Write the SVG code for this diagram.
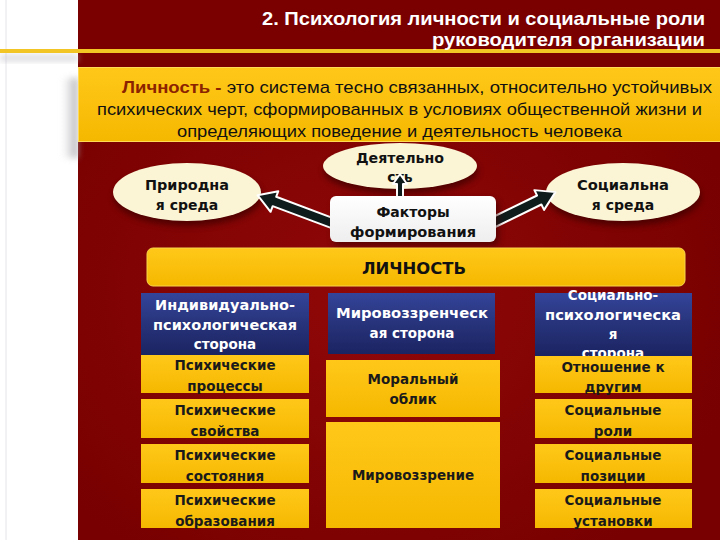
<svg xmlns="http://www.w3.org/2000/svg" width="720" height="540" viewBox="0 0 720 540">
<defs>
<style>
.title{font-family:"Liberation Sans Narrow","Liberation Sans",sans-serif;font-size:19px;font-weight:bold;fill:#fff}
.def{font-family:"Liberation Sans Narrow","Liberation Sans",sans-serif;font-size:17px;fill:#111}
.ell{fill:#fbf5d5}
.et{font-family:"DejaVu Sans",sans-serif;font-size:14px;font-weight:bold;fill:#111;text-anchor:middle}
.ht{font-family:"DejaVu Sans",sans-serif;font-size:13.5px;font-weight:bold;fill:#fff;text-anchor:middle}
.ct{font-family:"DejaVu Sans",sans-serif;font-size:13.5px;font-weight:bold;fill:#1a1a1a;text-anchor:middle}
.cell{fill:url(#yel)}
.hdr{fill:url(#navy)}
.arrow{fill:#0f1c1c;stroke:#fff;stroke-width:2;stroke-linejoin:round}
</style>
<radialGradient id="bg" cx="0.45" cy="0.55" r="0.6">
<stop offset="0" stop-color="#900808"/>
<stop offset="1" stop-color="#780000"/>
</radialGradient>
<linearGradient id="yel" x1="0" y1="0" x2="0" y2="1">
<stop offset="0" stop-color="#ffc819"/>
<stop offset="1" stop-color="#f5b800"/>
</linearGradient>
<linearGradient id="navy" x1="0" y1="0" x2="0" y2="1">
<stop offset="0" stop-color="#34449a"/>
<stop offset="0.5" stop-color="#27337a"/>
<stop offset="1" stop-color="#1b2462"/>
</linearGradient>
<linearGradient id="fakt" x1="0" y1="0" x2="0" y2="1">
<stop offset="0" stop-color="#ffffff"/>
<stop offset="1" stop-color="#eeeeee"/>
</linearGradient>
<linearGradient id="shg" x1="0" y1="0" x2="1" y2="0">
<stop offset="0" stop-color="#c8c8cc" stop-opacity="0"/>
<stop offset="1" stop-color="#9a9aa0"/>
</linearGradient>
<clipPath id="clipR"><rect x="535" y="280" width="157" height="76"/></clipPath>
<filter id="blur" x="-0.5" y="-0.5" width="2" height="2"><feGaussianBlur stdDeviation="3"/></filter>
<filter id="sh" x="-0.2" y="-0.2" width="1.4" height="1.5"><feGaussianBlur stdDeviation="3"/></filter>
</defs>

<!-- background -->
<rect x="0" y="0" width="720" height="540" fill="#fff"/>
<rect x="78" y="0" width="642" height="540" fill="url(#bg)"/>
<rect x="78" y="0" width="642" height="67" fill="#7a0000"/>
<line x1="6" y1="0" x2="6" y2="540" stroke="#e4e4ea" stroke-width="1"/>
<rect x="0" y="55" width="78" height="6" fill="#c0c0c8" filter="url(#blur)" opacity="0.6"/>
<rect x="62" y="78" width="16" height="80" fill="url(#shg)" filter="url(#blur)" opacity="0.8"/>
<rect x="0" y="49" width="720" height="4" fill="#f2c524"/>

<!-- title -->
<g id="title">
<text class="title" x="705" y="25" text-anchor="end" textLength="443" lengthAdjust="spacingAndGlyphs">2. Психология личности и социальные роли</text>
<text class="title" x="705" y="46" text-anchor="end" textLength="273" lengthAdjust="spacingAndGlyphs">руководителя организации</text>
</g>

<!-- definition -->
<g id="definition">
<rect x="78" y="67" width="642" height="75" fill="url(#yel)"/>
<rect x="78.5" y="67.5" width="642" height="74" fill="none" stroke="#ffdb55" stroke-width="1"/>
<text class="def" x="122" y="93" textLength="590" lengthAdjust="spacingAndGlyphs"><tspan fill="#8b2200" font-weight="bold">Личность</tspan><tspan fill="#8b2200" font-weight="bold"> - </tspan>это система тесно связанных,  относительно устойчивых</text>
<text class="def" x="97" y="115" textLength="605" lengthAdjust="spacingAndGlyphs">психических черт, сформированных в условиях общественной  жизни  и</text>
<text class="def" x="177" y="137" textLength="445" lengthAdjust="spacingAndGlyphs">определяющих  поведение и деятельность человека</text>
</g>

<!-- ellipses -->
<g id="prirodnaya">
<ellipse cx="188" cy="197" rx="74" ry="29" fill="#3a0000" filter="url(#sh)" opacity="0.7"/>
<ellipse class="ell" cx="187" cy="192" rx="74" ry="29"/>
<text class="et" x="187" y="190" textLength="84" lengthAdjust="spacingAndGlyphs">Природна</text>
<text class="et" x="187" y="210">я среда</text>
</g>
<g id="deyatelnost">
<ellipse cx="401" cy="171" rx="77" ry="23" fill="#3a0000" filter="url(#sh)" opacity="0.7"/>
<ellipse class="ell" cx="400" cy="166" rx="77" ry="23"/>
<text class="et" x="400" y="163" textLength="88" lengthAdjust="spacingAndGlyphs">Деятельно</text>
<text class="et" x="400" y="182">сть</text>
</g>
<g id="socialnaya">
<ellipse cx="624" cy="197" rx="77" ry="29" fill="#3a0000" filter="url(#sh)" opacity="0.7"/>
<ellipse class="ell" cx="623" cy="192" rx="77" ry="29"/>
<text class="et" x="623" y="190" textLength="92" lengthAdjust="spacingAndGlyphs">Социальна</text>
<text class="et" x="623" y="210">я среда</text>
</g>

<!-- connectors -->
<g id="connectors">
<path class="arrow" transform="translate(340,226) rotate(200.5)" d="M0,-5 L70,-5 L70,-11 L88,0 L70,11 L70,5 L0,5 Z"/>
<path class="arrow" transform="translate(488,225) rotate(-26)" d="M0,-5 L57,-5 L57,-11 L75,0 L57,11 L57,5 L0,5 Z"/>
<path class="arrow" transform="translate(400,204) rotate(-90)" d="M0,-3 L20,-3 L20,-7 L30,0 L20,7 L20,3 L0,3 Z"/>
</g>

<!-- factors -->
<g id="faktory">
<rect x="333" y="200" width="166" height="46" rx="6" fill="#3a0000" filter="url(#sh)" opacity="0.6"/>
<rect x="330" y="196" width="166" height="46" rx="6" fill="url(#fakt)"/>
<text class="et" x="413" y="217">Факторы</text>
<text class="et" x="413" y="237" textLength="126" lengthAdjust="spacingAndGlyphs">формирования</text>
</g>

<!-- personality bar -->
<g id="lichnost">
<rect x="147" y="248" width="538" height="38" rx="6" fill="url(#yel)" stroke="#f7d54a" stroke-width="1"/>
<text x="414" y="274" font-family="DejaVu Sans, sans-serif" font-size="16" font-weight="bold" text-anchor="middle" fill="#111" textLength="104" lengthAdjust="spacingAndGlyphs">ЛИЧНОСТЬ</text>
</g>

<!-- left column -->
<g id="col-individ">
<rect class="hdr" x="141" y="293" width="168" height="62"/>
<text class="ht" x="225" y="310" textLength="140" lengthAdjust="spacingAndGlyphs">Индивидуально-</text>
<text class="ht" x="225" y="330" textLength="144" lengthAdjust="spacingAndGlyphs">психологическая</text>
<text class="ht" x="225" y="349">сторона</text>
</g>
<g id="cell-processes">
<rect class="cell" x="141" y="355" width="168" height="38"/>
<text class="ct" x="225" y="370">Психические</text>
<text class="ct" x="225" y="391">процессы</text>
</g>
<g id="cell-svoystva">
<rect class="cell" x="141" y="399" width="168" height="39"/>
<text class="ct" x="225" y="415">Психические</text>
<text class="ct" x="225" y="436">свойства</text>
</g>
<g id="cell-sostoyaniya">
<rect class="cell" x="141" y="444" width="168" height="39"/>
<text class="ct" x="225" y="460">Психические</text>
<text class="ct" x="225" y="481">состояния</text>
</g>
<g id="cell-obrazovaniya">
<rect class="cell" x="141" y="489" width="168" height="39"/>
<text class="ct" x="225" y="505">Психические</text>
<text class="ct" x="225" y="526">образования</text>
</g>

<!-- middle column -->
<g id="col-mirovozz">
<rect class="hdr" x="328" y="293" width="167" height="61"/>
<text class="ht" x="412" y="318" textLength="152" lengthAdjust="spacingAndGlyphs">Мировоззренческ</text>
<text class="ht" x="412" y="338">ая сторона</text>
</g>
<g id="cell-moral">
<rect class="cell" x="326" y="360" width="174" height="57"/>
<text class="ct" x="413" y="384">Моральный</text>
<text class="ct" x="413" y="404">облик</text>
</g>
<g id="cell-mirovozzrenie">
<rect class="cell" x="326" y="422" width="174" height="106"/>
<text class="ct" x="413" y="480">Мировоззрение</text>
</g>

<!-- right column -->
<g id="col-social">
<rect class="hdr" x="535" y="293" width="157" height="63"/>
<g clip-path="url(#clipR)">
<text class="ht" x="613" y="300">Социально-</text>
<text class="ht" x="613" y="320" textLength="136" lengthAdjust="spacingAndGlyphs">психологическа</text>
<text class="ht" x="613" y="339">я</text>
<text class="ht" x="613" y="358">сторона</text>
</g>
</g>
<g id="cell-otnoshenie">
<rect class="cell" x="535" y="356" width="157" height="37"/>
<text class="ct" x="613" y="372">Отношение к</text>
<text class="ct" x="613" y="392">другим</text>
</g>
<g id="cell-roli">
<rect class="cell" x="535" y="399" width="157" height="39"/>
<text class="ct" x="613" y="415">Социальные</text>
<text class="ct" x="613" y="436">роли</text>
</g>
<g id="cell-pozicii">
<rect class="cell" x="535" y="444" width="157" height="39"/>
<text class="ct" x="613" y="460">Социальные</text>
<text class="ct" x="613" y="481">позиции</text>
</g>
<g id="cell-ustanovki">
<rect class="cell" x="535" y="489" width="157" height="39"/>
<text class="ct" x="613" y="505">Социальные</text>
<text class="ct" x="613" y="526">установки</text>
</g>
</svg>
